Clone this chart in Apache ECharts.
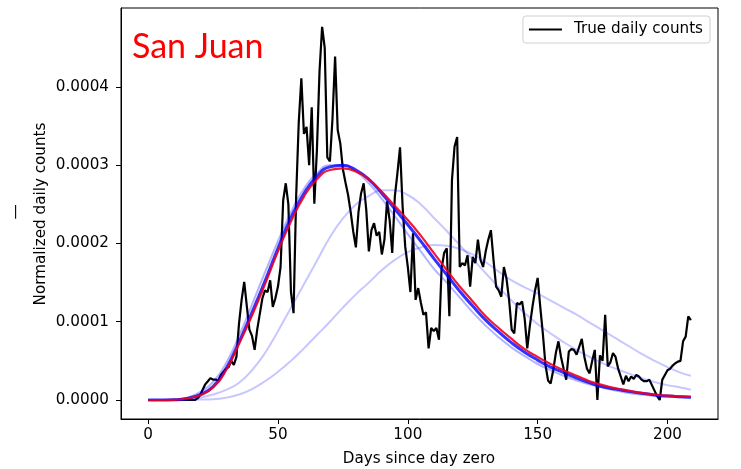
<!DOCTYPE html>
<html>
<head>
<meta charset="utf-8">
<script src="https://cdn.jsdelivr.net/npm/echarts@6/dist/echarts.min.js"></script>
<style>
html,body{margin:0;padding:0;background:#fff;}
#chart{width:741px;height:469px;}
</style>
</head>
<body>
<div id="chart"></div>
<script>
// values in units of 1e-4
const SCALE = 1e-4;
const trueCounts = [
0,0,0,0,0,0,0,0,0,0,0,0,0,0,0,0,0,0,0,
0.02,0.06,0.13,0.20,0.24,0.28,0.26,0.26,0.25,0.32,0.36,
0.40,0.42,0.50,0.45,0.55,0.98,1.28,1.51,1.20,0.90,
0.82,0.64,0.90,1.10,1.30,1.40,1.38,1.53,1.19,1.30,
1.45,1.70,2.55,2.77,2.50,1.38,1.11,2.60,3.55,4.11,
3.40,3.49,3.00,3.74,2.51,3.20,4.20,4.77,4.50,3.10,
3.05,3.60,4.39,3.45,3.28,2.95,2.78,2.62,2.40,2.15,
1.95,2.40,2.64,2.77,2.43,1.90,2.17,2.26,2.10,2.15,
1.86,2.05,2.54,2.30,1.88,2.60,2.90,3.23,2.47,1.96,
1.70,1.38,2.13,1.28,1.43,1.25,1.09,1.12,0.66,0.92,
0.88,0.92,0.77,1.68,1.88,1.94,1.07,2.81,3.24,3.36,
1.70,1.75,1.72,1.85,1.45,1.83,1.75,2.05,1.79,1.70,
1.90,2.05,2.17,1.79,1.45,1.40,1.32,1.70,1.55,1.28,
0.90,0.85,1.24,1.22,1.26,1.04,0.66,0.95,1.19,1.40,
1.56,1.19,0.85,0.45,0.25,0.21,0.38,0.60,0.75,0.55,
0.40,0.26,0.62,0.65,0.64,0.58,0.68,0.78,0.55,0.40,
0.34,0.50,0.64,0.00,0.57,0.50,1.09,0.43,0.48,0.60,
0.55,0.40,0.30,0.20,0.31,0.24,0.30,0.27,0.32,0.30,
0.26,0.24,0.24,0.26,0.19,0.12,0.05,0.00,0.26,0.32,
0.38,0.40,0.44,0.47,0.49,0.50,0.75,0.81,1.07,1.02
];
const fitDays = [0,5,10,15,20,25,30,35,40,45,50,55,60,65,70,75,80,85,90,95,100,105,110,115,120,125,130,135,140,145,150,155,160,165,170,175,180,185,190,195,200,205,209];
const redFit = [0,0,0.002,0.02,0.06,0.16,0.38,0.72,1.08,1.48,1.90,2.28,2.60,2.82,2.94,2.96,2.92,2.82,2.66,2.48,2.30,2.10,1.88,1.66,1.45,1.26,1.07,0.92,0.78,0.65,0.55,0.46,0.38,0.31,0.24,0.19,0.15,0.12,0.09,0.07,0.055,0.045,0.04];
const blueCore = [0,0,0.003,0.02,0.07,0.17,0.40,0.74,1.12,1.52,1.94,2.33,2.64,2.86,2.98,3.00,2.94,2.82,2.64,2.44,2.24,2.03,1.81,1.60,1.39,1.20,1.02,0.87,0.73,0.61,0.51,0.42,0.35,0.28,0.22,0.17,0.14,0.11,0.085,0.065,0.05,0.04,0.035];
const blueEarly = [0,0,0.006,0.03,0.10,0.23,0.47,0.82,1.22,1.63,2.03,2.40,2.70,2.90,3.00,3.00,2.92,2.77,2.57,2.35,2.12,1.90,1.68,1.50,1.31,1.12,0.95,0.80,0.67,0.56,0.46,0.38,0.31,0.25,0.20,0.16,0.12,0.09,0.07,0.055,0.045,0.035,0.03];
const blueMid = [0,0,0,0.005,0.03,0.07,0.13,0.22,0.38,0.60,0.88,1.18,1.48,1.78,2.08,2.32,2.50,2.61,2.68,2.68,2.62,2.50,2.33,2.16,1.98,1.80,1.62,1.44,1.27,1.11,0.97,0.85,0.74,0.64,0.55,0.47,0.40,0.34,0.28,0.23,0.19,0.16,0.13];
const blueLate = [0,0,0,0,0.005,0.01,0.03,0.07,0.14,0.24,0.36,0.50,0.66,0.83,1.00,1.18,1.35,1.50,1.66,1.79,1.89,1.95,1.98,1.97,1.93,1.86,1.76,1.64,1.53,1.44,1.36,1.27,1.18,1.09,0.99,0.89,0.79,0.69,0.59,0.50,0.42,0.35,0.31];
const xTicks = [0,50,100,150,200];
const yTicks = [0,1,2,3,4];

const dailyData = trueCounts.map((v,i)=>[i, v*SCALE]);
const fitData = arr => fitDays.map((d,i)=>[d, arr[i]*SCALE]);

const FONT = 'DejaVu Sans';
const FS = 15.2;
const chart = echarts.init(document.getElementById('chart'), null, {renderer:'canvas'});
const lightBlue = {color:'#0000ff', opacity:0.22, width:2};
chart.setOption({
  animation:false,
  backgroundColor:'#fff',
  grid:{left:121, right:23, top:8, bottom:50, show:true, borderColor:'#000', borderWidth:1},
  legend:{
    data:[{name:'True daily counts', icon:'rect'}],
    right:31, top:16, itemWidth:33, itemHeight:2,
    padding:[6,7,6,6], borderColor:'#d0d0d0', borderWidth:1, borderRadius:3,
    textStyle:{fontFamily:FONT, fontSize:FS, color:'#000', padding:[0,0,0,7]},
    itemStyle:{color:'#000'}
  },
  xAxis:{
    type:'value', min:-10.45, max:219.45,
    splitLine:{show:false},
    axisLine:{show:true, onZero:false, lineStyle:{color:'#000'}},
    axisTick:{show:true, length:5, lineStyle:{color:'#000'}, customValues:xTicks},
    axisLabel:{fontFamily:FONT, fontSize:FS, color:'#000', margin:9, customValues:xTicks}
  },
  yAxis:{
    type:'value', min:-0.243*SCALE, max:5.01*SCALE,
    splitLine:{show:false},
    axisLine:{show:true, onZero:false, lineStyle:{color:'#000'}},
    axisTick:{show:true, length:5, lineStyle:{color:'#000'}, customValues:yTicks.map(v=>v*SCALE)},
    axisLabel:{fontFamily:FONT, fontSize:FS, color:'#000', margin:12,
      customValues:yTicks.map(v=>v*SCALE),
      formatter:v=>(v).toFixed(4)}
  },
  series:[
    {name:'True daily counts', type:'line', data:dailyData, showSymbol:false, symbol:'none',
     lineStyle:{color:'#000', width:2.2}, itemStyle:{color:'#000'}, z:2},
    {name:'fit late', type:'line', data:fitData(blueLate), smooth:true, symbol:'none', lineStyle:lightBlue, z:3},
    {name:'fit mid', type:'line', data:fitData(blueMid), smooth:true, symbol:'none', lineStyle:lightBlue, z:3},
    {name:'fit early', type:'line', data:fitData(blueEarly), smooth:true, symbol:'none', lineStyle:{color:'#0000ff', opacity:0.3, width:2}, z:3},
    {name:'fit core', type:'line', data:fitData(blueCore), smooth:true, symbol:'none', lineStyle:{color:'#0000ff', opacity:0.8, width:3}, z:3},
    {name:'fit best', type:'line', data:fitData(redFit), smooth:true, symbol:'none', lineStyle:{color:'#ee0022', opacity:0.9, width:2.2}, z:4}
  ],
  graphic:[
    {type:'text', left:132, top:30, style:{text:'San Juan', fill:'#ff0000', font:'34px Lato'}},
    {type:'text', x:419, y:459, style:{text:'Days since day zero', fill:'#000', font:FS+'px "DejaVu Sans"', align:'center', verticalAlign:'middle'}},
    {type:'text', x:41, y:214, rotation:Math.PI/2, style:{text:'Normalized daily counts', fill:'#000', font:FS+'px "DejaVu Sans"', align:'center', verticalAlign:'middle'}},
    {type:'text', x:16, y:212, rotation:Math.PI/2, style:{text:'—', fill:'#000', font:FS+'px "DejaVu Sans"', align:'center', verticalAlign:'middle'}}
  ]
});
</script>
</body>
</html>
